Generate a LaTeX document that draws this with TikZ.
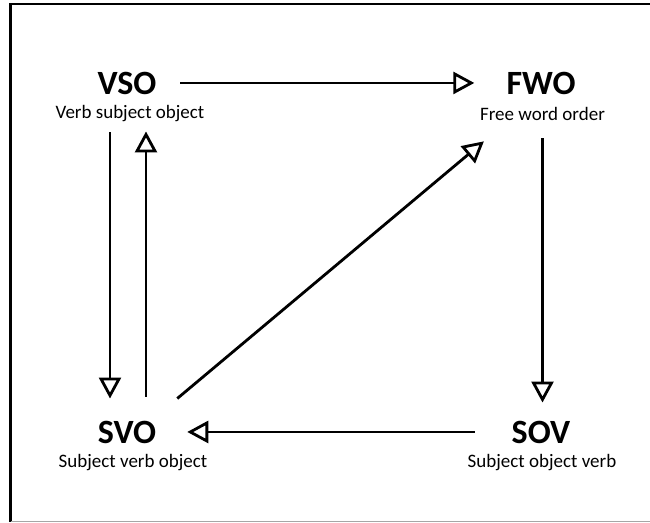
\documentclass[tikz,border=0pt]{standalone}
\usepackage{fontspec}
\setmainfont{Carlito}
\usetikzlibrary{arrows.meta,calc}
\begin{document}
\begin{tikzpicture}[x=1pt,y=-1pt,
  title/.style={font=\fontsize{34}{34}\selectfont\bfseries, inner sep=0pt, anchor=base},
  subtitle/.style={font=\fontsize{19}{19}\selectfont, inner sep=0pt, anchor=base},
  arr/.style={line width=2.8pt, -{Triangle[open, length=21pt, width=22pt]}},
  frame/.style={line width=2.5pt, draw=black},
  edge/.style={line width=1pt, draw=black!35}]
\useasboundingbox (0,0) rectangle (650,522);
% outer frame: top and left edges, running off the right side
\draw[frame] (650,4) -- (10.5,4) -- (10.5,522);
% faint bottom edge
\draw[edge] (10.5,521.5) -- (650,521.5);

% word-order types
\node[title]    (vso)    at (127,94)  {VSO};
\node[subtitle] (vsosub) at (130,118) {Verb subject object};
\node[title]    (fwo)    at (541,94)  {FWO};
\node[subtitle] (fwosub) at (542.5,120) {Free word order};
\node[title]    (svo)    at (127,443) {SVO};
\node[subtitle] (svosub) at (133,467) {Subject verb object};
\node[title]    (sov)    at (541,443) {SOV};
\node[subtitle] (sovsub) at (542,467) {Subject object verb};

% transitions
\draw[arr, shorten <=23.5pt, shorten >=32pt] (vso.east) -- (vso.east -| fwo.west);
\draw[arr, shorten <=18pt, shorten >=18pt] (fwosub.south) -- (fwosub.south |- sov.north);
\draw[arr, shorten <=37pt, shorten >=31pt] (sov.west) -- (sov.west -| svo.east);
\draw[arr, shorten <=11pt, shorten >=22pt] ([xshift=-20pt]vsosub.south) -- ([xshift=-20pt]vsosub.south |- svo.north);
\draw[arr, shorten <=24pt, shorten >=10pt] ([xshift=16pt]vsosub.south |- svo.north) -- ([xshift=16pt]vsosub.south);
\draw[arr] ([xshift=21pt,yshift=22pt]svo.north east) -- ([xshift=4pt,yshift=-21pt]fwosub.south west);
\end{tikzpicture}
\end{document}
